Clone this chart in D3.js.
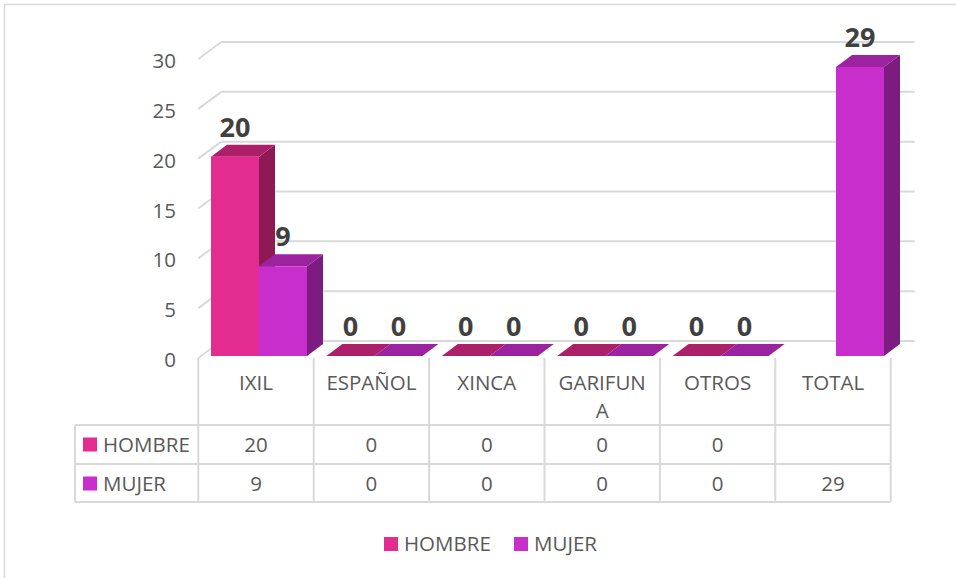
<!DOCTYPE html>
<html>
<head>
<meta charset="utf-8">
<script src="https://cdn.jsdelivr.net/npm/d3@7"></script>
<style>
  body { margin: 0; background: #fff; }
  svg { display: block; font-family: "Open Sans", "Noto Sans", sans-serif; }
</style>
</head>
<body>
<svg id="chart" width="956" height="578"></svg>
<script>
// data
var categories = ["IXIL", "ESPAÑOL", "XINCA", "GARIFUNA", "OTROS", "TOTAL"];
var seriesNames = ["HOMBRE", "MUJER"];
var hombre = [20, 0, 0, 0, 0, null];
var mujer = [9, 0, 0, 0, 0, 29];
var yTicks = [0, 5, 10, 15, 20, 25, 30];

var colors = {
  HOMBRE: { front: "#e22c8f", top: "#ab2069", side: "#8e1a55" },
  MUJER:  { front: "#c82ecb", top: "#9b239f", side: "#7d1c80" }
};

var svg = d3.select("#chart");
var gridColor = "#d9d9d9", textColor = "#595959";
var fs = "20.5px";

// outer frame
svg.append("rect")
  .attr("x", 4.5).attr("y", 4.5)
  .attr("width", 1000).attr("height", 1000)
  .attr("fill", "none").attr("stroke", gridColor).attr("stroke-width", 1.5);

// 3d depth of the plot box and of the bars
var depthX = 23, depthY = -17;
var barOffX = 3, barOffY = -2, barDX = 16, barDY = -12;

var x = d3.scaleBand().domain(categories).range([198.3, 890.7]).padding(0);
var x1 = d3.scaleBand().domain(seriesNames).range([9.7, x.bandwidth() - 9.7]).padding(0);
var y = d3.scaleLinear().domain([0, 30]).range([358, 59]); // front plane

// gridlines on back wall + side wall diagonals
var grid = svg.append("g");
yTicks.forEach(function(t) {
  grid.append("line")
    .attr("x1", x.range()[0] + depthX).attr("x2", x.range()[1] + depthX + 1)
    .attr("y1", y(t) + depthY).attr("y2", y(t) + depthY)
    .attr("stroke", gridColor).attr("stroke-width", 2);
  grid.append("line")
    .attr("x1", x.range()[0]).attr("x2", x.range()[0] + depthX)
    .attr("y1", y(t)).attr("y2", y(t) + depthY)
    .attr("stroke", gridColor).attr("stroke-width", 2);
});

// y tick labels
svg.append("g").selectAll("text")
  .data(yTicks).enter().append("text")
    .attr("x", 176).attr("y", function(d) { return y(d) + 9; })
    .attr("text-anchor", "end")
    .attr("fill", textColor).style("font-size", fs)
    .text(function(d) { return d; });

// bars
var bars = [];
categories.forEach(function(c, i) {
  bars.push({ cat: c, s: "HOMBRE", v: hombre[i] });
  bars.push({ cat: c, s: "MUJER", v: mujer[i] });
});
bars = bars.filter(function(d) { return d.v !== null; });

var barG = svg.append("g");
bars.forEach(function(d) {
  var x0 = x(d.cat) + x1(d.s) + barOffX;
  var w = x1.bandwidth();
  var yt = y(d.v) + barOffY, yb = y(0) + barOffY;
  var col = colors[d.s];
  var g = barG.append("g");
  g.append("polygon")
    .attr("points", [[x0 + w, yt], [x0 + w + barDX, yt + barDY], [x0 + w + barDX, yb + barDY], [x0 + w, yb]].join(" "))
    .attr("fill", col.side);
  g.append("polygon")
    .attr("points", [[x0, yt], [x0 + w, yt], [x0 + w + barDX, yt + barDY], [x0 + barDX, yt + barDY]].join(" "))
    .attr("fill", col.top);
  if (yb - yt > 0) {
    g.append("rect")
      .attr("x", x0).attr("y", yt).attr("width", w).attr("height", yb - yt)
      .attr("fill", col.front);
  }
  d.lx = x0 + w / 2;
  d.ly = yt + barDY - 8;
});

// data labels
svg.append("g").selectAll("text")
  .data(bars).enter().append("text")
    .attr("x", function(d) { return d.lx; })
    .attr("y", function(d) { return d.ly; })
    .attr("text-anchor", "middle")
    .attr("fill", "#404040")
    .style("font-size", "27px").style("font-weight", "700")
    .text(function(d) { return d.v; });

// data table
var tbl = svg.append("g");
var headTop = 358, row1 = 425, row2 = 464, row3 = 502, keyLeft = 75;
var xr = x.range();
[row1, row2, row3].forEach(function(yy) {
  tbl.append("line").attr("x1", keyLeft).attr("x2", xr[1])
    .attr("y1", yy).attr("y2", yy)
    .attr("stroke", gridColor).attr("stroke-width", 2);
});
categories.concat(["_end"]).forEach(function(c, i) {
  var xx = xr[0] + i * x.bandwidth();
  tbl.append("line").attr("x1", xx).attr("x2", xx)
    .attr("y1", headTop).attr("y2", row3)
    .attr("stroke", gridColor).attr("stroke-width", 2);
});
tbl.append("line").attr("x1", keyLeft).attr("x2", keyLeft)
  .attr("y1", row1).attr("y2", row3)
  .attr("stroke", gridColor).attr("stroke-width", 2);

// category labels, wrapped by character when too wide
categories.forEach(function(c) {
  var t = tbl.append("text")
    .attr("x", x(c) + x.bandwidth() / 2).attr("y", 390)
    .attr("text-anchor", "middle").attr("fill", textColor)
    .style("font-size", fs);
  var line = "", lines = [];
  var probe = t.append("tspan");
  c.split("").forEach(function(ch) {
    probe.text(line + ch);
    if (probe.node().getComputedTextLength() > 97 && line.length) {
      lines.push(line); line = ch;
    } else line += ch;
  });
  lines.push(line);
  probe.remove();
  lines.forEach(function(l, k) {
    t.append("tspan").attr("x", x(c) + x.bandwidth() / 2)
      .attr("dy", k ? 28 : 0).text(l);
  });
});

// row headers + values
[[hombre, row1, "HOMBRE"], [mujer, row2, "MUJER"]].forEach(function(r) {
  var vals = r[0], top = r[1], name = r[2];
  var cy = top + (row2 - row1) / 2;
  tbl.append("rect").attr("x", 83).attr("y", cy - 7).attr("width", 14).attr("height", 14)
    .attr("fill", colors[name].front);
  tbl.append("text").attr("x", 103).attr("y", cy + 7)
    .attr("fill", textColor).style("font-size", fs).text(name);
  vals.forEach(function(v, i) {
    if (v === null) return;
    tbl.append("text")
      .attr("x", x(categories[i]) + x.bandwidth() / 2).attr("y", cy + 7)
      .attr("text-anchor", "middle").attr("fill", textColor)
      .style("font-size", fs).text(v);
  });
});

// legend
var legend = svg.append("g");
var lx = [384, 514];
seriesNames.forEach(function(s, i) {
  legend.append("rect").attr("x", lx[i]).attr("y", 537).attr("width", 14).attr("height", 14)
    .attr("fill", colors[s].front);
  legend.append("text").attr("x", lx[i] + 20).attr("y", 551)
    .attr("fill", textColor).style("font-size", fs).text(s);
});
</script>
</body>
</html>
